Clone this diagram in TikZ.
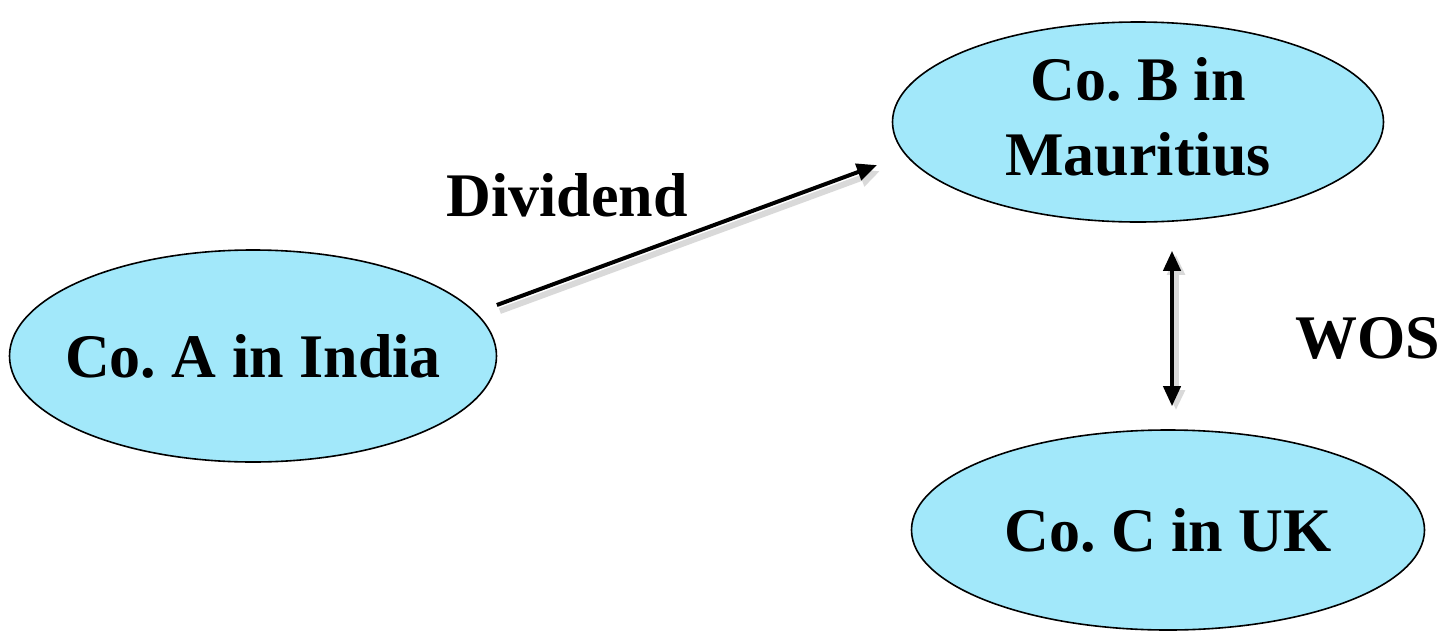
\documentclass[tikz,border=0pt]{standalone}
\usepackage{fontspec}
\setmainfont{Liberation Serif}
\usepackage{tikz}
\usepackage{xcolor}
\usetikzlibrary{shapes.geometric, arrows.meta}
\frenchspacing
\definecolor{cobox}{RGB}{162,232,250}
\tikzstyle{company} = [ellipse, draw=black, line width=0.8pt, fill=cobox, inner sep=0pt]
\tikzstyle{lbl} = [align=center, inner sep=0pt, font=\fontsize{31}{37.5}\selectfont\bfseries]
\tikzstyle{arrow} = [line width=2pt, -{Triangle[length=10pt,width=8.5pt]}, preaction={draw=black!15, line width=3pt, transform canvas={xshift=1.5pt,yshift=-3pt}}]
\tikzstyle{dblarrow} = [line width=2pt, {Triangle[length=10pt,width=8.5pt]}-{Triangle[length=10pt,width=8.5pt]}, preaction={draw=black!15, line width=3pt, transform canvas={xshift=2pt,yshift=-2pt}}]

\begin{document}
\begin{tikzpicture}[x=0.5pt, y=-0.5pt]
		\useasboundingbox[fill=white] (0,0) rectangle (1446,632);
		\node (indiaco) [company, minimum width=243.5pt, minimum height=106pt, label={[lbl]center:Co. A in India}] at (253,356) {};
		\node (mauco) [company, minimum width=245.5pt, minimum height=100pt, label={[lbl, yshift=2.5pt]center:Co. B in\\Mauritius}] at (1138,122) {};
		\node (ukco) [company, minimum width=256.5pt, minimum height=100pt, label={[lbl]center:Co. C in UK}] at (1168,530) {};
		
		\node (div) [lbl] at (567,195) {Dividend};
		\node (wos) [lbl] at (1368,338) {WOS};
		
		\draw [arrow, shorten <=11pt, shorten >=15pt] (indiaco.11) -- (mauco.188);
		\draw [dblarrow, shorten <=11.5pt, shorten >=14pt] ([xshift=2pt]ukco.north) -- ([xshift=2pt]ukco.north |- mauco.south);
	\end{tikzpicture}
\end{document}
